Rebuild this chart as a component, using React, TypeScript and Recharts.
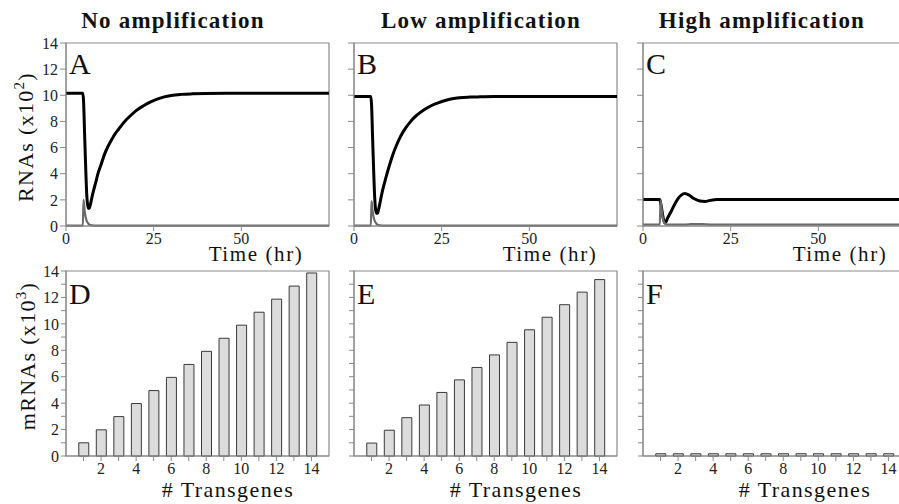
import React from 'react';
import { LineChart, Line, BarChart, Bar, XAxis, YAxis, ReferenceArea } from 'recharts';

// ---------- data ----------
const timeAB = [0, 4.8, 5.0, 5.3, 5.6, 5.9, 6.1, 6.4, 6.7, 7.0, 7.4, 7.8, 8.5, 9, 10, 11, 12, 13, 14, 15, 16, 17, 18, 20, 22, 24, 26, 28, 30, 33, 36, 40, 50, 75];
const blackA = [10.15, 10.15, 9.6, 7.1, 4.6, 2.5, 1.75, 1.35, 1.4, 1.7, 2.2, 2.65, 3.35, 3.9, 4.7, 5.5, 6.1, 6.6, 7.05, 7.4, 7.76, 8.07, 8.34, 8.83, 9.18, 9.47, 9.7, 9.88, 9.99, 10.07, 10.11, 10.14, 10.15, 10.15];
const grayA = [0.03, 0.03, 2.0, 1.2, 0.7, 0.4, 0.28, 0.17, 0.11, 0.07, 0.05, 0.04, 0.03, 0.03, 0.03, 0.03, 0.03, 0.03, 0.03, 0.03, 0.03, 0.03, 0.03, 0.03, 0.03, 0.03, 0.03, 0.03, 0.03, 0.03, 0.03, 0.03, 0.03, 0.03];
const blackB = [9.9, 9.9, 9.3, 6.8, 4.3, 2.2, 1.4, 0.98, 0.97, 1.25, 1.75, 2.3, 3.1, 3.6, 4.55, 5.4, 6.1, 6.7, 7.2, 7.6, 7.95, 8.25, 8.5, 8.9, 9.2, 9.42, 9.6, 9.73, 9.81, 9.86, 9.88, 9.9, 9.9, 9.9];
const grayB = [0.03, 0.03, 1.9, 1.15, 0.68, 0.4, 0.28, 0.17, 0.11, 0.07, 0.05, 0.04, 0.03, 0.03, 0.03, 0.03, 0.03, 0.03, 0.03, 0.03, 0.03, 0.03, 0.03, 0.03, 0.03, 0.03, 0.03, 0.03, 0.03, 0.03, 0.03, 0.03, 0.03, 0.03];

const timeC = [0, 4.8, 5.0, 5.3, 5.6, 5.9, 6.25, 6.6, 7.0, 7.5, 8.1, 9, 10, 11, 11.9, 13.2, 14.5, 16.2, 17.7, 19.1, 21, 24, 30, 75];
const blackC = [2.02, 2.02, 1.8, 1.35, 0.85, 0.45, 0.23, 0.35, 0.6, 0.85, 1.15, 1.65, 2.1, 2.38, 2.48, 2.35, 2.1, 1.91, 1.88, 1.96, 2.03, 2.02, 2.02, 2.02];
const grayC = [0.1, 0.1, 1.95, 1.3, 0.7, 0.35, 0.2, 0.13, 0.1, 0.1, 0.1, 0.1, 0.1, 0.1, 0.11, 0.13, 0.15, 0.15, 0.13, 0.11, 0.1, 0.1, 0.1, 0.1];

const transgenes = [1, 2, 3, 4, 5, 6, 7, 8, 9, 10, 11, 12, 13, 14];
const mrnaD = [1.0, 1.98, 2.98, 3.97, 4.95, 5.95, 6.93, 7.92, 8.91, 9.9, 10.88, 11.87, 12.86, 13.85];
const mrnaE = [0.98, 1.95, 2.9, 3.86, 4.81, 5.76, 6.7, 7.65, 8.6, 9.55, 10.5, 11.45, 12.4, 13.35];
const mrnaF = [0.17, 0.17, 0.17, 0.17, 0.17, 0.17, 0.17, 0.17, 0.17, 0.17, 0.17, 0.17, 0.17, 0.17];

const timeTicks = [0, 25, 50];
const rnaTicks = [0, 2, 4, 6, 8, 10, 12, 14];
const mrnaTicks = [0, 1, 2, 3, 4, 5, 6, 7, 8, 9, 10, 11, 12, 13, 14];

const titles = ['No amplification', 'Low amplification', 'High amplification'];
const letters = ['A', 'B', 'C', 'D', 'E', 'F'];

// ---------- layout / style ----------
const FONT = "'Liberation Serif', serif";
const AXIS = '#8a8a8a';
const PW = 263;
const ML = 60, MT = 10, MR = 10, MB = 40;
const cols = [66, 354, 643];
const topRow = { top: 43, h: 183 };
const botRow = { top: 271, h: 185 };

const tickStyle = { fill: '#222', fontSize: 16, fontFamily: FONT };

function LinePanel({ left, t, black, gray, labels }: any) {
  const data = t.map((v: number, i: number) => ({ t: v, black: black[i], gray: gray[i] }));
  return (
    <div style={{ position: 'absolute', left: left - ML, top: topRow.top - MT }}>
      <LineChart width={ML + PW + MR} height={MT + topRow.h + MB} data={data}
        margin={{ top: MT, right: MR, bottom: 10, left: 10 }}>
        <XAxis dataKey="t" type="number" domain={[0, 75]} ticks={timeTicks} height={30}
          tick={tickStyle} tickSize={5} axisLine={{ stroke: AXIS }} tickLine={{ stroke: AXIS }} interval={0} />
        <YAxis type="number" domain={[0, 14]} ticks={rnaTicks} width={50} interval={0}
          tick={tickStyle} tickSize={6} axisLine={{ stroke: AXIS }} tickLine={{ stroke: AXIS }}
          tickFormatter={(v: number) => (labels ? String(v) : '')} />
        <ReferenceArea x1={0} x2={75} y1={0} y2={14} fill="none" fillOpacity={0} stroke={AXIS} strokeWidth={1.2} />
        <Line dataKey="black" type="monotone" stroke="#000" strokeWidth={3} dot={false} isAnimationActive={false} />
        <Line dataKey="gray" type="monotone" stroke="#6c6c6c" strokeWidth={2.2} dot={false} isAnimationActive={false} />
      </LineChart>
    </div>
  );
}

function BarPanel({ left, values, labels }: any) {
  const data = transgenes.map((n, i) => ({ n, v: values[i] }));
  return (
    <div style={{ position: 'absolute', left: left - ML, top: botRow.top - MT }}>
      <BarChart width={ML + PW + MR} height={MT + botRow.h + MB} data={data}
        margin={{ top: MT, right: MR, bottom: 10, left: 10 }}>
        <XAxis dataKey="n" type="number" domain={[0, 15]} ticks={transgenes} height={30} interval={0}
          tick={tickStyle} tickSize={5} axisLine={{ stroke: AXIS }} tickLine={{ stroke: AXIS }}
          tickFormatter={(v: number) => (v % 2 === 0 ? String(v) : '')} />
        <YAxis type="number" domain={[0, 14]} ticks={mrnaTicks} width={50} interval={0}
          tick={tickStyle} tickSize={5} axisLine={{ stroke: AXIS }} tickLine={{ stroke: AXIS }}
          tickFormatter={(v: number) => (labels && v % 2 === 0 ? String(v) : '')} />
        <ReferenceArea x1={0} x2={15} y1={0} y2={14} fill="none" fillOpacity={0} stroke={AXIS} strokeWidth={1.2} />
        <Bar dataKey="v" barSize={10} fill="#dcdcdc" stroke="#3a3a3a" strokeWidth={1} isAnimationActive={false} />
      </BarChart>
    </div>
  );
}

export default function App() {
  const titleX = [173, 481, 762];
  const timeX = [256, 550, 840];
  return (
    <div style={{ position: 'absolute', left: 0, top: 0, width: 899, height: 504, overflow: 'hidden', background: '#fff' }}>
      <LinePanel left={cols[0]} t={timeAB} black={blackA} gray={grayA} labels />
      <LinePanel left={cols[1]} t={timeAB} black={blackB} gray={grayB} labels={false} />
      <LinePanel left={cols[2]} t={timeC} black={blackC} gray={grayC} labels={false} />
      <BarPanel left={cols[0]} values={mrnaD} labels />
      <BarPanel left={cols[1]} values={mrnaE} labels={false} />
      <BarPanel left={cols[2]} values={mrnaF} labels={false} />
      <svg width={899} height={504} style={{ position: 'absolute', left: 0, top: 0, pointerEvents: 'none' }}
        fontFamily={FONT} fill="#111">
        {titles.map((s, i) => (
          <text key={s} x={titleX[i]} y={28} textAnchor="middle" fontWeight="bold" fontSize={23} letterSpacing={1.2}>{s}</text>
        ))}
        {letters.map((s, i) => (
          <text key={s} x={cols[i % 3] + 3} y={i < 3 ? 74 : 304} fontSize={30}>{s}</text>
        ))}
        {timeX.map((x, i) => (
          <text key={'t' + i} x={x} y={261} textAnchor="middle" fontSize={21} letterSpacing={1.6}>Time (hr)</text>
        ))}
        {cols.map((c, i) => (
          <text key={'g' + i} x={c + 162} y={497} textAnchor="middle" fontSize={22} letterSpacing={1.4}># Transgenes</text>
        ))}
        <text transform="translate(33,137) rotate(-90)" textAnchor="middle" fontSize={22} letterSpacing={1.3}>
          RNAs (x10<tspan fontSize={15} dy={-9}>2</tspan><tspan dy={9}>)</tspan>
        </text>
        <text transform="translate(35,356) rotate(-90)" textAnchor="middle" fontSize={22} letterSpacing={1.3}>
          mRNAs (x10<tspan fontSize={15} dy={-9}>3</tspan><tspan dy={9}>)</tspan>
        </text>
      </svg>
    </div>
  );
}
